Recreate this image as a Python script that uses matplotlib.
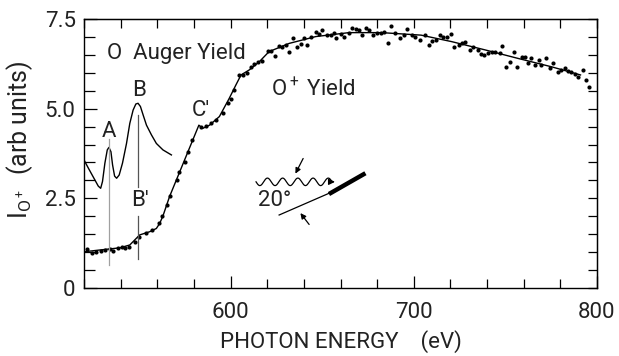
import numpy as np
import matplotlib
matplotlib.use("Agg")
import matplotlib.pyplot as plt
from matplotlib.ticker import MultipleLocator, FixedLocator, FixedFormatter

plt.rcParams['font.family'] = ['Roboto', 'DejaVu Sans']
plt.rcParams['font.weight'] = 'normal'
plt.rcParams['mathtext.fontset'] = 'custom'
plt.rcParams['mathtext.rm'] = 'Roboto'
plt.rcParams['mathtext.it'] = 'Roboto'

# ---- data ----
dot_x = [521.8, 524.2, 526.5, 529.1, 531.4, 534.1, 535.9, 538.7, 540.5, 542.3, 544.6,
         547.7, 550.1, 554.1, 557.3, 560.9, 562.8, 565.3,
         567.2, 570.7, 572.1, 574.9, 576.7, 578.8, 583.9, 586.6, 589.3, 592.1, 595.7,
         598.4, 600.2, 602.0, 604.7, 606.6, 608.7, 611.1, 612.9, 614.7,
         617.4, 620.2, 622.0, 624.3, 626.5, 628.3, 630.1, 631.9, 634.3, 636.5, 638.3,
         640.1, 641.9, 643.7, 646.4, 648.3, 650.1, 652.4, 654.6, 656.4, 657.7, 660.0,
         661.8, 664.6, 666.4, 668.2, 670.0, 671.8, 674.0, 675.8, 677.8, 680.0, 682.3,
         683.6, 685.9, 687.8, 689.9, 692.6, 694.5, 696.3, 699.0, 700.8,
         703.5, 706.2, 708.4, 710.2, 712.0, 714.4, 716.2, 718.0, 720.2, 722.0, 724.7,
         726.2, 728.0, 730.7, 732.5, 734.9, 736.7, 738.5, 740.3, 742.5, 744.6, 747.0,
         748.4, 750.1, 752.4, 754.6, 756.6, 758.8, 760.6, 762.4, 764.2, 766.4, 768.2,
         769.6, 772.0, 774.2, 776.0, 778.7, 780.5, 782.3, 784.1, 785.9, 787.8, 789.6,
         792.3, 794.1, 795.9]
dot_y = [1.10, 0.97, 1.00, 1.03, 1.06, 1.08, 1.04, 1.11, 1.13, 1.11, 1.15,
         1.29, 1.43, 1.54, 1.62, 1.80, 2.01, 2.31,
         2.57, 3.01, 3.24, 3.52, 3.80, 4.12, 4.50, 4.52, 4.59, 4.68, 4.87,
         5.15, 5.26, 5.52, 5.94, 5.94, 6.00, 6.17, 6.24, 6.31,
         6.34, 6.62, 6.62, 6.48, 6.75, 6.73, 6.77, 6.59, 6.96, 6.73, 6.80,
         6.96, 6.77, 7.01, 7.14, 7.08, 7.19, 7.05, 7.05, 7.10, 6.96, 7.08,
         7.01, 7.12, 7.24, 7.21, 7.19, 7.05, 7.24, 7.19, 7.05, 7.10, 7.12,
         7.14, 6.82, 7.30, 7.12, 6.96, 7.05, 7.21, 7.05, 7.01,
         6.91, 7.05, 6.77, 6.89, 6.91, 7.05, 6.99, 6.99, 7.08, 6.73, 6.77,
         6.84, 6.87, 6.63, 6.73, 6.63, 6.52, 6.49, 6.54, 6.59, 6.59, 6.54,
         6.75, 6.15, 6.31, 6.58, 6.17, 6.45, 6.43, 6.26, 6.40, 6.23, 6.36,
         6.23, 6.40, 6.12, 6.28, 6.03, 6.08, 6.12, 6.06, 6.03, 5.97, 5.89,
         6.08, 5.80, 5.61]

fit_x = [520, 528.7, 539.6, 545.0, 547.7, 550.4, 555.9, 559.5, 561.3, 563.1, 566.7,
         570.4, 574.9, 579.4, 582.7, 584.8, 588.5, 593.9, 599.3, 602.9, 605.7, 610.2,
         615.7, 621.0, 632.0, 646.5, 664.6, 682.5, 704.0, 720.6, 738.8, 757.0, 775.0, 791.0]
fit_y = [1.01, 1.06, 1.12, 1.20, 1.34, 1.48, 1.57, 1.66, 1.80, 2.01, 2.55,
         3.01, 3.57, 4.13, 4.54, 4.45, 4.54, 4.78, 5.29, 5.66, 5.94, 6.08,
         6.31, 6.59, 6.82, 7.01, 7.12, 7.12, 7.05, 6.87, 6.64, 6.40, 6.17, 5.94]

auger_x = [520.0, 522.4, 525.1, 527.8, 529.1, 530.1, 531.4, 532.7, 533.6, 534.7, 535.6,
           536.7, 537.8, 539.2, 541.0, 543.2, 545.0, 546.8, 548.3, 549.5, 550.8, 552.3,
           554.1, 556.8, 559.5, 563.1, 567.7]
auger_y = [3.57, 3.34, 3.09, 2.84, 2.78, 2.97, 3.48, 3.85, 3.92, 3.80, 3.43,
           3.12, 3.06, 3.15, 3.48, 4.03, 4.59, 4.96, 5.13, 5.15, 5.06, 4.82,
           4.54, 4.27, 4.03, 3.85, 3.71]

peak_A = 533.6
peak_B = 549.7

x_ticks = [600, 700, 800]
x_ticklabels = ["600", "700", "800"]
y_ticks = [0, 2.5, 5.0, 7.5]
y_ticklabels = ["0", "2.5", "5.0", "7.5"]

# ---- figure ----
fig = plt.figure(figsize=(6.19, 3.56), dpi=100)
ax = fig.add_axes([84/619, 1-288/356, (597-84)/619, (288-19)/356])

ax.plot(fit_x, fit_y, color='black', lw=1.0)
ax.plot(dot_x, dot_y, 'o', color='black', ms=3.0, mew=0)
ax.plot(auger_x, auger_y, color='black', lw=1.0)

ax.plot([peak_A, peak_A], [0.64, 4.15], color='#a0a0a0', lw=0.9)
ax.plot([peak_B, peak_B], [2.82, 4.82], color='#555555', lw=0.9)
ax.plot([peak_B, peak_B], [0.82, 2.0], color='#555555', lw=0.9)

fs = 16
tc = '#222222'
ax.text(532.5, 6.55, "O  Auger Yield", fontsize=fs, va='center', ha='left', color=tc)
ax.text(622.0, 5.52, "O$^+$ Yield", fontsize=fs, va='center', ha='left', color=tc)
ax.text(533.6, 4.36, "A", fontsize=fs, va='center', ha='center', color=tc)
ax.text(550.1, 5.50, "B", fontsize=fs, va='center', ha='center', color=tc)
ax.text(584.0, 4.96, "C\u2032", fontsize=fs, va='center', ha='center', color=tc)
ax.text(550.8, 2.45, "B\u2032", fontsize=fs, va='center', ha='center', color=tc)
ax.text(623.8, 2.45, "20\u00b0", fontsize=fs, va='center', ha='center', color=tc)

# inset schematic (photon on tilted surface)
wx = np.linspace(613.9, 655.5, 200)
wy = 2.96 + 0.105 * np.sin((wx - 613.9) / 8.3 * 2 * np.pi + np.pi)
ax.plot(wx, wy, color='black', lw=0.9)
ax.annotate("", xy=(658.5, 2.96), xytext=(652.0, 2.96),
            arrowprops=dict(arrowstyle='-|>', color='black', lw=0.9, mutation_scale=9))
ax.plot([653.7, 673.6], [2.62, 3.20], color='black', lw=3.2, solid_capstyle='butt')
ax.plot([626.5, 653.7], [2.035, 2.64], color='black', lw=0.9)
ax.annotate("", xy=(634.7, 3.12), xytext=(640.3, 3.68),
            arrowprops=dict(arrowstyle='-|>', color='black', lw=0.9, mutation_scale=8))
ax.annotate("", xy=(637.2, 2.15), xytext=(643.8, 1.71),
            arrowprops=dict(arrowstyle='-|>', color='black', lw=0.9, mutation_scale=8))

ax.set_xlim(520, 800)
ax.set_ylim(0, 7.5)

ax.xaxis.set_major_locator(FixedLocator(x_ticks))
ax.xaxis.set_major_formatter(FixedFormatter(x_ticklabels))
ax.xaxis.set_minor_locator(MultipleLocator(20))
ax.yaxis.set_major_locator(FixedLocator(y_ticks))
ax.yaxis.set_major_formatter(FixedFormatter(y_ticklabels))
ax.yaxis.set_minor_locator(MultipleLocator(0.5))

ax.tick_params(axis='both', which='both', direction='in', labelsize=fs, width=0.9,
               labelcolor=tc)
ax.tick_params(axis='x', which='major', length=9, pad=10)
ax.tick_params(axis='x', which='minor', length=6.5)
ax.tick_params(axis='y', which='major', length=9, pad=6)
ax.tick_params(axis='y', which='minor', length=8)

top = ax.secondary_xaxis('top')
top.xaxis.set_major_locator(MultipleLocator(20))
top.tick_params(direction='in', length=6.5, width=0.9, labeltop=False)
right = ax.secondary_yaxis('right')
right.yaxis.set_major_locator(MultipleLocator(0.5))
right.tick_params(direction='in', length=6.5, width=0.9, labelright=False)

for s in ax.spines.values():
    s.set_linewidth(1.0)

ax.set_xlabel("PHOTON ENERGY    (eV)", fontsize=fs, labelpad=5, color=tc)
ax.set_ylabel("I$_{\\mathrm{O}^+}$  (arb units)", fontsize=18, color=tc)
ax.yaxis.set_label_coords(-0.095, 0.55)

fig.savefig("out.png", dpi=100)
